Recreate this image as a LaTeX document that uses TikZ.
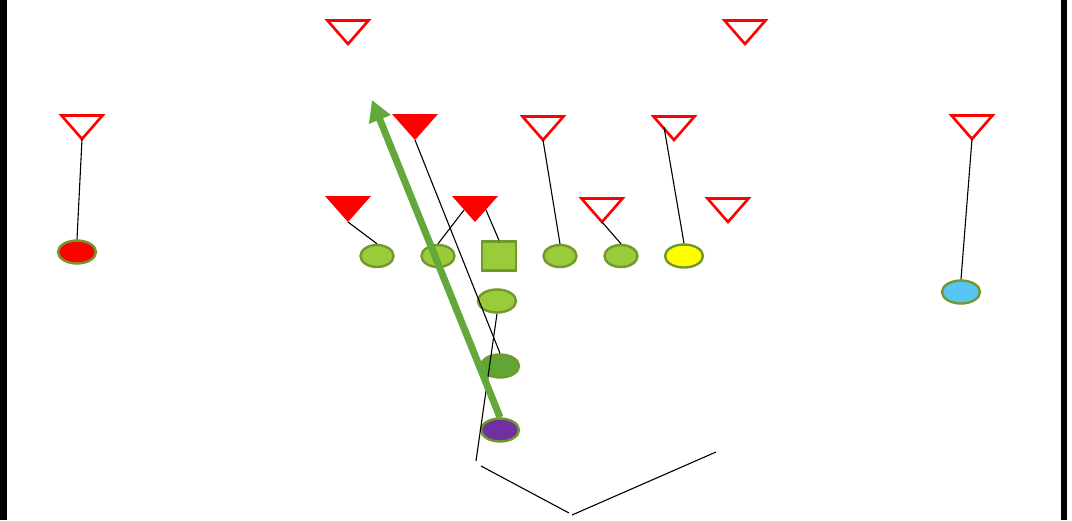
\documentclass[tikz,border=0pt]{standalone}
\usetikzlibrary{arrows.meta,shapes.geometric}
\definecolor{lgreen}{HTML}{9ACB3A}
\definecolor{olive}{HTML}{72992C}
\definecolor{dgreen}{HTML}{60A536}
\definecolor{arrowgreen}{HTML}{62A83A}
\definecolor{purp}{HTML}{7030A0}
\definecolor{sky}{HTML}{56C5F5}
\definecolor{yel}{HTML}{FFFF00}
\begin{document}
\begin{tikzpicture}[x=1pt,y=-1pt,
  player/.style={ellipse,draw=olive,line width=2.4pt,inner sep=0pt,minimum width=33pt,minimum height=22pt,fill=lgreen},
  bigplayer/.style={player,minimum width=38pt,minimum height=23pt},
  center/.style={rectangle,draw=olive,line width=2.4pt,inner sep=0pt,minimum width=34pt,minimum height=29pt,fill=lgreen},
  dopen/.style={draw=red,line width=2.6pt,fill=white,line join=miter},
  dfill/.style={fill=red,draw=none},
  route/.style={draw=black,line width=1.1pt},
  border/.style={fill=black,draw=none}]
\useasboundingbox (0,0) rectangle (1072,520);
\fill[white] (0,0) rectangle (1072,520);
\path[border] (0,0) rectangle (7,520);
\path[border] (1061,0) rectangle (1067,520);

% defender apexes
\coordinate (d1) at (348,44);
\coordinate (d2) at (745,44);
\coordinate (d3) at (82,139);
\coordinate (d4) at (415,140);
\coordinate (d5) at (543,140);
\coordinate (d6) at (674,140);
\coordinate (d7) at (972,139);
\coordinate (d8) at (348,222);
\coordinate (d9) at (475,222);
\coordinate (d10) at (602,222);
\coordinate (d11) at (728,222);

% open triangles
\foreach \c in {d1,d2,d3,d5,d6,d7,d10,d11}
  \path[dopen] (\c) -- ++(-20.5,-23.5) -- ++(41,0) -- cycle;
% filled triangles
\foreach \c in {d4,d8,d9}
  \path[dfill] (\c) -- ++(-23,-26) -- ++(46,0) -- cycle;

% offense
\node[bigplayer,fill=red] (wr1) at (77,252) {};
\node[bigplayer,fill=sky] (wr2) at (961,292) {};
\node[player] (lt) at (377,256) {};
\node[player] (lg) at (438,256) {};
\node[center] (c) at (499,256) {};
\node[player] (rg) at (560,256) {};
\node[player] (rt) at (621,256) {};
\node[bigplayer,fill=yel] (te) at (684,256) {};
\node[bigplayer] (fb) at (497,301) {};
\node[bigplayer,fill=dgreen] (hb) at (500,366) {};
\node[bigplayer,fill=purp] (qb) at (500,430) {};

% routes / blocks
\coordinate (d9l) at (464,210);
\coordinate (d9r) at (486,210);
\coordinate (d6in) at (664,127);
\coordinate (fbend) at (476,461);
\coordinate (v1) at (481,466);
\coordinate (v2) at (569,513);
\coordinate (v3) at (572,515);
\coordinate (v4) at (716,452);

\draw[route] (wr1.north) -- (d3);
\draw[route] (wr2.north) -- (d7);
\draw[route] (lt.north) -- (d8);
\draw[route] (lg.north) -- (d9l);
\draw[route] (c.north) -- (d9r);
\draw[route] (rg.north) -- (d5);
\draw[route] (rt.north) -- (d10);
\draw[route] (te.north) -- (d6in);
\draw[route] (d4) -- (hb.north);
\draw[route] (fb.south) -- (fbend);
\draw[route] (v1) -- (v2);
\draw[route] (v3) -- (v4);

% pass arrow
\coordinate (tip) at (372,100);
\draw[arrowgreen,line width=7pt,-{Triangle[width=22pt,length=21pt]}] (qb.north) -- (tip);
\end{tikzpicture}
\end{document}
